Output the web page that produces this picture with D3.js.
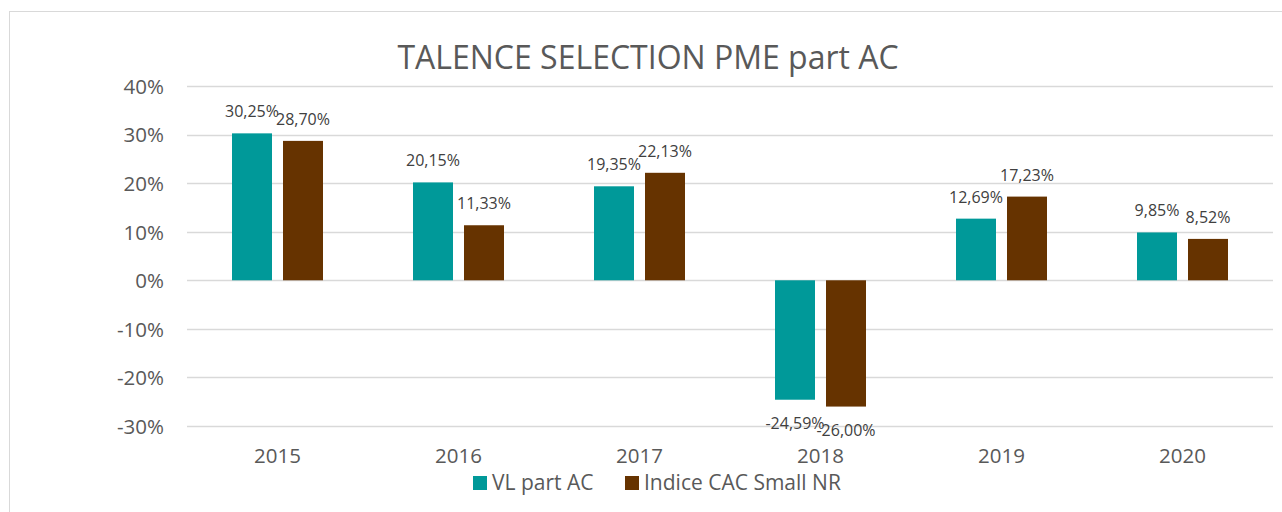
<!DOCTYPE html>
<html>
<head>
<meta charset="utf-8">
<script src="https://cdn.jsdelivr.net/npm/d3@7"></script>
<style>
  body { margin: 0; background: #fff; }
  svg { display: block; font-family: "Open Sans", "Noto Sans", sans-serif; }
</style>
</head>
<body>
<svg id="chart-svg"></svg>
<script>
// data ------------------------------------------------------------
let years = ["2015", "2016", "2017", "2018", "2019", "2020"];
let seriesNames = ["VL part AC", "Indice CAC Small NR"];
let vlValues = [30.25, 20.15, 19.35, -24.59, 12.69, 9.85];
let cacValues = [28.70, 11.33, 22.13, -26.00, 17.23, 8.52];
let yTicks = [-30, -20, -10, 0, 10, 20, 30, 40];
let title = "TALENCE SELECTION PME part AC";

let colors = ["#009999", "#663300"];

// svg spec --------------------------------------------------------
let width = 1282;
let height = 512;
let plot = {left: 187, right: 1273, top: 86, bottom: 426};

let svg = d3.select("#chart-svg").attr("width", width).attr("height", height);

// frame
svg.append("rect")
  .attr("x", 9.5).attr("y", 11.5)
  .attr("width", 1290).attr("height", 520)
  .attr("fill", "#fff")
  .attr("stroke", "#d9d9d9");

let x = d3.scaleBand().domain(years).range([plot.left, plot.right]);
let y = d3.scaleLinear().domain([-30, 40]).range([plot.bottom, plot.top]);

// grid
svg.append("g")
  .selectAll("line")
  .data(yTicks)
  .join("line")
  .attr("x1", plot.left).attr("x2", plot.right)
  .attr("y1", d => Math.round(y(d)) + 0.5).attr("y2", d => Math.round(y(d)) + 0.5)
  .attr("stroke", "#d9d9d9")
  .attr("stroke-width", 1.5);

// y axis labels
let yAxis = svg.append("g")
  .attr("transform", `translate(${plot.left - 23},0)`)
  .call(d3.axisLeft(y).tickValues(yTicks).tickSize(0).tickPadding(0).tickFormat(d => d + "%"))
  .attr("font-family", null)
  .attr("font-size", null);
yAxis.select(".domain").remove();
yAxis.selectAll("text")
  .attr("fill", "#595959")
  .attr("dy", "0.36em")
  .style("font-size", "20.5px");

// x axis labels
let xAxis = svg.append("g")
  .attr("transform", `translate(0,${plot.bottom + 37})`)
  .call(d3.axisBottom(x).tickSize(0).tickPadding(0))
  .attr("font-family", null)
  .attr("font-size", null);
xAxis.select(".domain").remove();
xAxis.selectAll("text")
  .attr("fill", "#595959")
  .attr("dy", "0")
  .style("font-size", "20.5px");

// bars
let barW = 40, gap = 11;
let series = [vlValues, cacValues];

series.forEach((vals, s) => {
  let offset = s === 0 ? -(gap / 2 + barW) : gap / 2;
  let g = svg.append("g");
  g.selectAll("rect")
    .data(vals)
    .join("rect")
    .attr("x", (d, i) => x(years[i]) + x.bandwidth() / 2 + offset)
    .attr("y", d => y(Math.max(d, 0)))
    .attr("width", barW)
    .attr("height", d => Math.abs(y(d) - y(0)))
    .attr("fill", colors[s]);

  g.selectAll("text")
    .data(vals)
    .join("text")
    .attr("x", (d, i) => x(years[i]) + x.bandwidth() / 2 + offset + barW / 2)
    .attr("y", d => d >= 0 ? y(d) - 16 : y(d) + 29)
    .attr("text-anchor", "middle")
    .attr("fill", "#404040")
    .style("font-size", "16px")
    .text(d => d.toFixed(2).replace(".", ",") + "%");
});

// title
svg.append("text")
  .attr("x", 648).attr("y", 69)
  .attr("text-anchor", "middle")
  .attr("fill", "#595959")
  .style("font-size", "32px")
  .text(title);

// legend
let legend = svg.append("g").attr("transform", "translate(473,476)");
let legendX = [0, 152];
seriesNames.forEach((name, i) => {
  let lg = legend.append("g").attr("transform", `translate(${legendX[i]},0)`);
  lg.append("rect").attr("width", 14).attr("height", 14).attr("fill", colors[i]);
  lg.append("text")
    .attr("x", 19).attr("y", 14)
    .attr("fill", "#595959")
    .style("font-size", "21px")
    .text(name);
});
</script>
</body>
</html>
